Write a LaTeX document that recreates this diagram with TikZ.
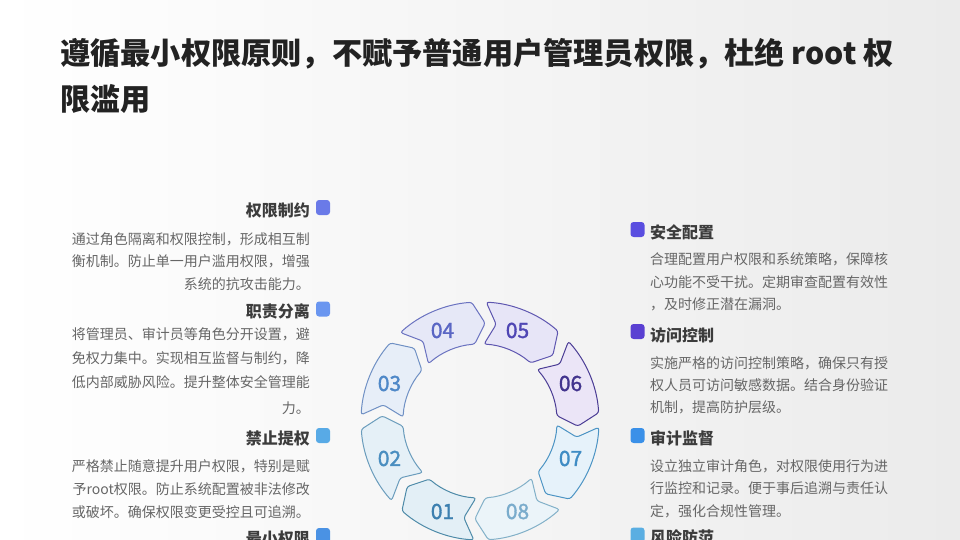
\documentclass[tikz,border=0pt]{standalone}
\usepackage{fontspec}
\setmainfont{Noto Sans CJK SC}
\newfontfamily\numfont[FakeBold=1.6]{Noto Sans CJK SC}
\definecolor{titlec}{HTML}{222222}
\definecolor{headc}{HTML}{3C3C3C}
\definecolor{bodyc}{HTML}{666666}
\definecolor{bgr}{HTML}{EBEBEB}
\definecolor{qa}{HTML}{6A7AE8}
\definecolor{qb}{HTML}{6A96F0}
\definecolor{qc}{HTML}{58AAE6}
\definecolor{qd}{HTML}{4A92E4}
\definecolor{qe}{HTML}{5A4EE0}
\definecolor{qf}{HTML}{5A40D2}
\definecolor{qg}{HTML}{3A90E8}
\definecolor{qh}{HTML}{5AAEE2}
\definecolor{sd1}{HTML}{4D8AA8}\definecolor{sf1}{HTML}{E3EFF6}\definecolor{st1}{HTML}{3D80B0}
\definecolor{sd2}{HTML}{6A9CBC}\definecolor{sf2}{HTML}{E5F0F7}\definecolor{st2}{HTML}{4A8EC0}
\definecolor{sd3}{HTML}{6F90C4}\definecolor{sf3}{HTML}{E7EEF8}\definecolor{st3}{HTML}{4F88C8}
\definecolor{sd4}{HTML}{6A72C0}\definecolor{sf4}{HTML}{E6E8F7}\definecolor{st4}{HTML}{5A66C4}
\definecolor{sd5}{HTML}{5E56B0}\definecolor{sf5}{HTML}{E7E5F7}\definecolor{st5}{HTML}{4F46B4}
\definecolor{sd6}{HTML}{4A3C94}\definecolor{sf6}{HTML}{EBE5F7}\definecolor{st6}{HTML}{42348E}
\definecolor{sd7}{HTML}{4C94C4}\definecolor{sf7}{HTML}{E6F2FA}\definecolor{st7}{HTML}{3F8CC4}
\definecolor{sd8}{HTML}{82B0C8}\definecolor{sf8}{HTML}{EBF4F9}\definecolor{st8}{HTML}{7AACCC}
\begin{document}
\begin{tikzpicture}[x=1pt,y=-1pt,
  head/.style={font=\fontsize{16}{16}\selectfont\bfseries, text=headc, inner sep=0pt},
  bodyL/.style={font=\fontsize{14}{14}\selectfont, text=bodyc, inner sep=0pt, anchor=base east},
  bodyR/.style={font=\fontsize{14}{14}\selectfont, text=bodyc, inner sep=0pt, anchor=base west},
  sq/.style={fill=#1, rounded corners=3pt, minimum width=14pt, minimum height=15pt, inner sep=0pt, draw=none},
  ttl/.style={font=\fontsize{30.2}{30.2}\selectfont\bfseries, text=titlec, inner sep=0pt, anchor=base west}
]
\useasboundingbox (0,0) rectangle (960,540);
\shade[left color=white, right color=bgr, shading angle=90] (0,0) rectangle (960,540);

% title
\node[ttl] (t1) at (60,65) {遵循最小权限原则，不赋予普通用户管理员权限，杜绝 root 权};
\node[ttl] (t2) at (60,111) {限滥用};

% ring
\begin{scope}[shift={(480,421)}]
\foreach \c/\n in {-112.5/1, -157.5/2, 157.5/3, 112.5/4, 67.5/5, 22.5/6, -22.5/7, -67.5/8}{
  \draw[line width=1pt, draw=sd\n, fill=sf\n, rounded corners=2.5pt]
    (\c+19.5:119pt) arc[start angle=\c+19.5, end angle=\c-18.5, radius=119pt]
    -- (\c-25.5:98pt) -- (\c-18.5:77pt)
    arc[start angle=\c-18.5, end angle=\c+19.5, radius=77pt]
    -- (\c+13:98pt) -- cycle;
  \node[text=st\n, font=\numfont\fontsize{21}{21}\selectfont, inner sep=0pt] (num\n) at (\c:98pt) {0\n};
}
\end{scope}

% left column
\node[sq=qa] (lq1) at (323,207.5) {};
\node[head, anchor=base east] (lh1) at (310,216) {权限制约};
\node[bodyL] (l1a) at (310,244) {通过角色隔离和权限控制，形成相互制};
\node[bodyL] (l1b) at (310,266.5) {衡机制。防止单一用户滥用权限，增强};
\node[bodyL] (l1c) at (310,289) {系统的抗攻击能力。};

\node[sq=qb] (lq2) at (323,309) {};
\node[head, anchor=base east] (lh2) at (310,317.5) {职责分离};
\node[bodyL] (l2a) at (310,339.5) {将管理员、审计员等角色分开设置，避};
\node[bodyL] (l2b) at (310,363) {免权力集中。实现相互监督与制约，降};
\node[bodyL] (l2c) at (310,387.5) {低内部威胁风险。提升整体安全管理能};
\node[bodyL] (l2d) at (310,413) {力。};

\node[sq=qc] (lq3) at (323,435.5) {};
\node[head, anchor=base east] (lh3) at (310,444) {禁止提权};
\node[bodyL] (l3a) at (310,471) {严格禁止随意提升用户权限，特别是赋};
\node[bodyL] (l3b) at (310,494) {予root权限。防止系统配置被非法修改};
\node[bodyL] (l3c) at (310,517) {或破坏。确保权限变更受控且可追溯。};

\node[sq=qd] (lq4) at (323,535.5) {};
\node[head, anchor=base east] (lh4) at (310,544) {最小权限};

% right column
\node[sq=qe] (rq1) at (637.5,229.5) {};
\node[head, anchor=base west] (rh1) at (650,238) {安全配置};
\node[bodyR] (r1a) at (650,264) {合理配置用户权限和系统策略，保障核};
\node[bodyR] (r1b) at (650,287) {心功能不受干扰。定期审查配置有效性};
\node[bodyR] (r1c) at (650,309) {，及时修正潜在漏洞。};

\node[sq=qf] (rq2) at (637.5,331.5) {};
\node[head, anchor=base west] (rh2) at (650,341) {访问控制};
\node[bodyR] (r2a) at (650,368) {实施严格的访问控制策略，确保只有授};
\node[bodyR] (r2b) at (650,390.5) {权人员可访问敏感数据。结合身份验证};
\node[bodyR] (r2c) at (650,412.5) {机制，提高防护层级。};

\node[sq=qg] (rq3) at (637.5,435.5) {};
\node[head, anchor=base west] (rh3) at (650,444) {审计监督};
\node[bodyR] (r3a) at (650,471) {设立独立审计角色，对权限使用行为进};
\node[bodyR] (r3b) at (650,493.5) {行监控和记录。便于事后追溯与责任认};
\node[bodyR] (r3c) at (650,516) {定，强化合规性管理。};

\node[sq=qh] (rq4) at (637.5,535) {};
\node[head, anchor=base west] (rh4) at (650,543) {风险防范};
\end{tikzpicture}
\end{document}
